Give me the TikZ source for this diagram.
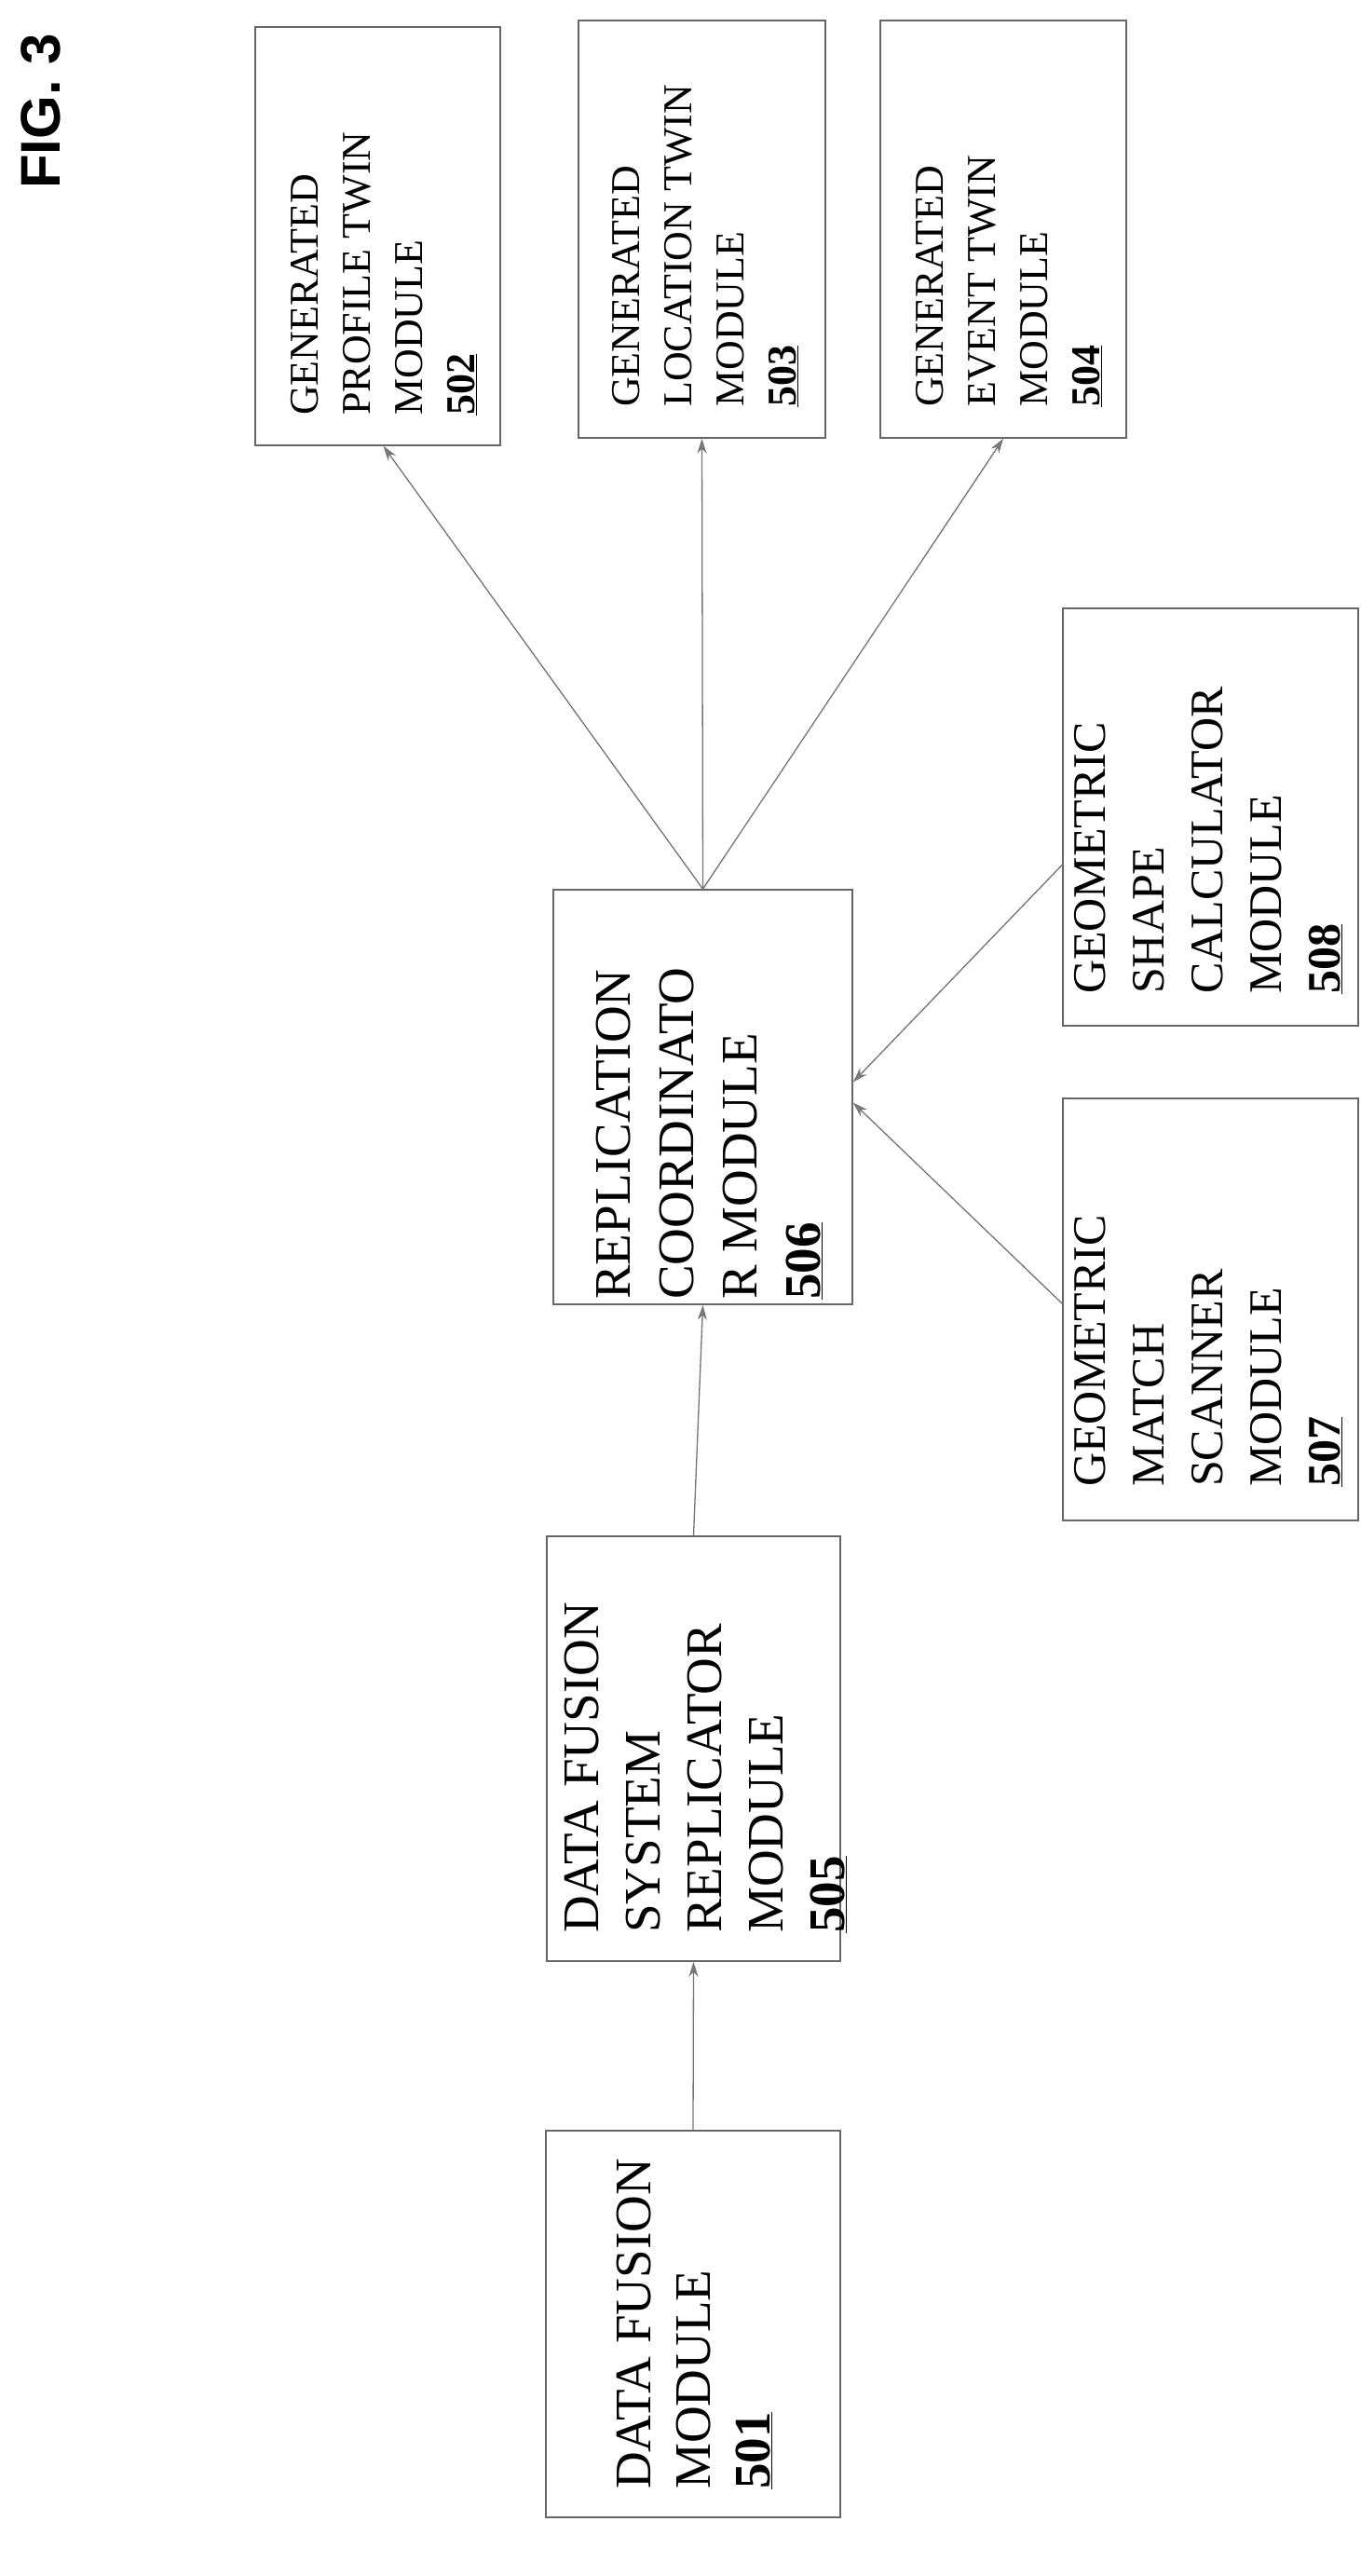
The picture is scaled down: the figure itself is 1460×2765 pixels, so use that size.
\documentclass[tikz,border=0pt]{standalone}
\usepackage{fontspec}
\setmainfont{Liberation Serif}
\newfontfamily\figfont{Liberation Sans}
\usetikzlibrary{arrows.meta}
\begin{document}
\begin{tikzpicture}[x=1pt,y=-1pt,
  box/.style={draw=black!60,line width=1.5pt},
  lbl/.style={rotate=90,anchor=north west,inner sep=0pt,align=left},
  conn/.style={draw=black!55,line width=1.3pt,-{Stealth[length=16pt,width=10pt,fill=black!50]}}]
\useasboundingbox (0,0) rectangle (1460,2765);
\node[rotate=90,anchor=north west,inner sep=0pt,font=\figfont\fontsize{60}{60}\selectfont\bfseries] (fig) at (22,203) {FIG. 3};
% boxes
\node[box,minimum width=263pt,minimum height=449pt,inner sep=0pt] (m502) at (405.5,253.5) {};
\node[box,minimum width=265pt,minimum height=448pt,inner sep=0pt] (m503) at (753.5,246) {};
\node[box,minimum width=264pt,minimum height=448pt,inner sep=0pt] (m504) at (1077,246) {};
\node[box,minimum width=317pt,minimum height=448pt,inner sep=0pt] (m508) at (1299.5,877) {};
\node[box,minimum width=321pt,minimum height=445pt,inner sep=0pt] (m506) at (754.5,1177.5) {};
\node[box,minimum width=317pt,minimum height=453pt,inner sep=0pt] (m507) at (1299.5,1405.5) {};
\node[box,minimum width=315pt,minimum height=456pt,inner sep=0pt] (m505) at (744.5,1877) {};
\node[box,minimum width=316pt,minimum height=415pt,inner sep=0pt] (m501) at (744,2494.5) {};
% labels
\node[lbl,font=\fontsize{44}{56}\selectfont] (t502) at (312,446) {GENERATED\\PROFILE TWIN\\MODULE\\\textbf{\underline{502}}};
\node[lbl,font=\fontsize{44}{56}\selectfont] (t503) at (657,437) {GENERATED\\LOCATION TWIN\\MODULE\\\textbf{\underline{503}}};
\node[lbl,font=\fontsize{44}{56}\selectfont] (t504) at (983,437) {GENERATED\\EVENT TWIN\\MODULE\\\textbf{\underline{504}}};
\node[lbl,font=\fontsize{50}{63}\selectfont] (t508) at (1153,1067) {GEOMETRIC\\SHAPE\\CALCULATOR\\MODULE\\\textbf{\underline{508}}};
\node[lbl,font=\fontsize{50}{63}\selectfont] (t507) at (1153,1596) {GEOMETRIC\\MATCH\\SCANNER\\MODULE\\\textbf{\underline{507}}};
\node[lbl,font=\fontsize{55}{68}\selectfont] (t506) at (640,1395) {REPLICATION\\COORDINATO\\R MODULE\\\textbf{\underline{506}}};
\node[lbl,font=\fontsize{55}{66}\selectfont] (t505) at (606,2075) {DATA FUSION\\SYSTEM\\REPLICATOR\\MODULE\\\textbf{\underline{505}}};
\node[lbl,font=\fontsize{55}{64}\selectfont] (t501) at (662,2672) {DATA FUSION\\MODULE\\\textbf{\underline{501}}};
% connectors
\draw[conn] (m501.north) -- (m505.south);
\draw[conn] (m505.north) -- (m506.south);
\draw[conn] (m506.north) -- ([xshift=6pt]m502.south);
\draw[conn] (m506.north) -- (m503.south);
\draw[conn] (m506.north) -- (m504.south);
\draw[conn] ([yshift=-221pt]m507.north west) -- ([yshift=-6pt]m506.east);
\draw[conn] ([yshift=-276pt]m508.north west) -- ([yshift=16pt]m506.east);
\end{tikzpicture}
\end{document}
